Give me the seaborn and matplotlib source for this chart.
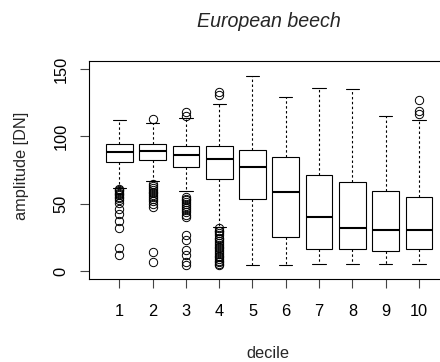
import numpy as np
import pandas as pd
import matplotlib
matplotlib.use("Agg")
import matplotlib.pyplot as plt
import seaborn as sns

# Five-number summaries of amplitude per decile
deciles = [1, 2, 3, 4, 5, 6, 7, 8, 9, 10]
whisker_low = [61.9, 67.3, 59.3, 35.4, 4.9, 4.5, 5.2, 5.2, 5.2, 5.2]
quartile_1 = [81.2, 82.6, 77.7, 68.3, 53.5, 25.5, 16.3, 16.3, 15.3, 16.8]
medians = [88.3, 89.1, 86.6, 83.1, 77.7, 58.9, 40.3, 31.7, 30.4, 30.9]
quartile_3 = [94.5, 94.5, 92.6, 92.6, 90.3, 84.9, 71.3, 66.1, 59.2, 55.4]
whisker_high = [112.2, 110.0, 113.5, 124.4, 145.0, 129.2, 136.1, 135.1, 115.3, 111.9]

# Points beyond the whiskers
outliers_1 = [61.0, 60.2, 59.3, 58.4, 57.5, 56.4, 55.3, 54.1, 52.8, 50.3, 46.5,
              42.1, 37.3, 31.7, 17.3, 11.9]
outliers_2 = [64.5, 63.2, 61.8, 60.4, 59.1, 57.8, 56.2, 54.9, 53.4, 51.8, 50.1,
              48.0, 14.3, 6.9, 112.6]
outliers_3 = [55.0, 53.9, 52.6, 51.2, 49.8, 48.3, 46.8, 45.1, 43.6, 42.0, 40.3,
              26.7, 23.0, 15.6, 11.9, 6.9, 4.5, 115.1, 118.3]
outliers_4 = [32.9, 31.8, 30.2, 29.5, 28.1, 26.6, 25.0, 24.1, 22.7, 21.0, 19.8,
              18.2, 17.1, 15.5, 14.4, 12.9, 11.6, 10.2, 9.1, 7.8, 6.5, 5.7, 4.8,
              130.7, 132.7]
outliers_10 = [116.8, 118.8, 126.9]
outliers = [outliers_1, outliers_2, outliers_3, outliers_4, [], [], [], [], [],
            outliers_10]


def decile_sample(lo, q1, med, q3, hi, extra):
    """Build a sample of 4k+1 values whose quartiles, whisker ends and
    outliers reproduce the given summary exactly."""
    low_out = sorted(v for v in extra if v < lo)
    high_out = sorted(v for v in extra if v > hi)
    k = max(len(low_out), len(high_out)) + 1
    below = low_out + [lo] + [q1] * (k - 1 - len(low_out))
    above = [q3] * (k - 1 - len(high_out)) + [hi] + high_out
    return (below + [q1] + [med] * (k - 1) + [med] + [med] * (k - 1)
            + [q3] + above)


rows = []
for d, lo, q1, med, q3, hi, extra in zip(deciles, whisker_low, quartile_1,
                                         medians, quartile_3, whisker_high,
                                         outliers):
    for v in decile_sample(lo, q1, med, q3, hi, extra):
        rows.append({"decile": d, "amplitude": v})
df = pd.DataFrame(rows)

sns.set_theme(style="ticks")
plt.rcParams["font.family"] = ["Liberation Sans", "DejaVu Sans"]
plt.rcParams["font.size"] = 11.8

fig = plt.figure(figsize=(4.4, 3.62), dpi=100)
ax = fig.add_axes([89.3 / 440, 1 - 279.3 / 362, (449 - 89.3) / 440,
                   (279.3 - 61) / 362])

sns.boxplot(
    data=df, x="decile", y="amplitude", ax=ax,
    color="white", linecolor="black", linewidth=0.8, width=0.8,
    fliersize=6,
    flierprops=dict(marker="o", markerfacecolor="none",
                    markeredgecolor="black", markeredgewidth=0.7),
    whiskerprops=dict(linestyle=(0, (2.2, 2.2))),
    medianprops=dict(linewidth=1.5),
)

ax.set_xlim(-0.9, 9.9)
ax.set_ylim(-6, 156)
ax.set_yticks([0, 50, 100, 150])
for s in ax.spines.values():
    s.set_visible(True)
    s.set_color("black")
    s.set_linewidth(0.8)

ax.tick_params(axis="both", length=6.5, width=0.8, color="#444444",
               labelsize=11.8, labelcolor="black")
ax.tick_params(axis="x", pad=11)
ax.tick_params(axis="y", pad=8.4)
for lab in ax.get_yticklabels():
    lab.set_rotation(90)
    lab.set_va("center")

ax.set_title("European beech", fontsize=14.1, fontstyle="italic", pad=24.5)
ax.set_xlabel("decile", fontsize=11.8)
ax.xaxis.set_label_coords((268 - 89.3) / 359.7, -0.3055)
ax.set_ylabel("amplitude [DN]", fontsize=11.8)
ax.yaxis.set_label_coords(-0.169, 0.52)

fig.savefig("out.png", dpi=100)
